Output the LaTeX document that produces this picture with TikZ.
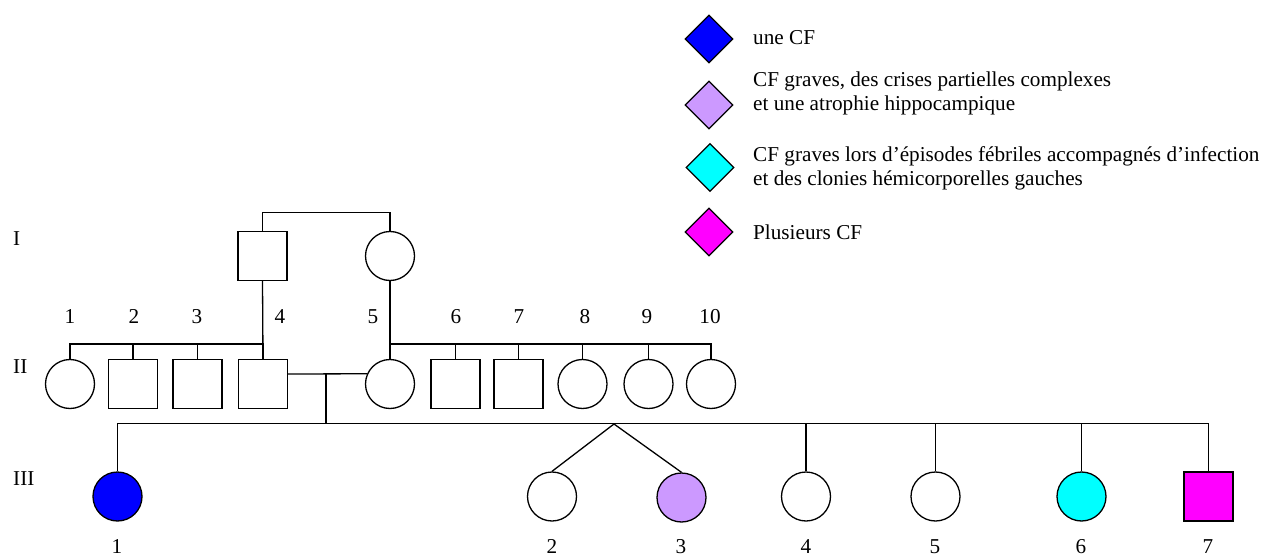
\documentclass[tikz,border=0pt]{standalone}
\usepackage{fontspec}
\setmainfont{Liberation Serif}
\usetikzlibrary{shapes.geometric}
\definecolor{cfblue}{RGB}{0,0,255}
\definecolor{cflav}{RGB}{204,153,255}
\definecolor{cfcyan}{RGB}{0,255,255}
\definecolor{cfmag}{RGB}{255,0,255}
\begin{document}
\begin{tikzpicture}[x=1pt,y=-1pt,
  ln/.style={line width=1.3pt, black},
  male/.style={draw, line width=1.3pt, rectangle, minimum size=49pt, inner sep=0pt},
  female/.style={draw, line width=1.3pt, circle, minimum size=49pt, inner sep=0pt},
  legd/.style={draw, line width=1.3pt, diamond, minimum size=48pt, inner sep=0pt},
  lbl/.style={anchor=base, inner sep=0pt, font=\fontsize{21.2}{24}\selectfont},
  txt/.style={anchor=base west, inner sep=0pt, font=\fontsize{21.2}{24}\selectfont}]
\fill[white] (0,0) rectangle (1266,556);
\useasboundingbox (0,0) rectangle (1266,556);

% generation labels
\node[txt] (gI) at (13,245) {I};
\node[txt] (gII) at (13,373) {II};
\node[txt] (gIII) at (13,485) {III};

% generation I
\node[male] (I1) at (262.5,256) {};
\node[female] (I2) at (390,256) {};

% generation II
\node[female] (II1) at (70,384) {};
\node[male] (II2) at (133,384) {};
\node[male] (II3) at (197.5,384) {};
\node[male] (II4) at (263,384) {};
\node[female] (II5) at (390,384) {};
\node[male] (II6) at (455.5,384) {};
\node[male] (II7) at (518.5,384) {};
\node[female] (II8) at (582.5,384) {};
\node[female] (II9) at (648.5,384) {};
\node[female] (II10) at (711,384) {};

\node[lbl] (n1) at (70,323) {1};
\node[lbl] (n2) at (134,323) {2};
\node[lbl] (n3) at (197,323) {3};
\node[lbl] (n4) at (280,323) {4};
\node[lbl] (n5) at (373,323) {5};
\node[lbl] (n6) at (456,323) {6};
\node[lbl] (n7) at (519,323) {7};
\node[lbl] (n8) at (585,323) {8};
\node[lbl] (n9) at (647,323) {9};
\node[lbl] (n10) at (710,323) {10};

% generation III
\node[female, fill=cfblue] (III1) at (117.5,496.5) {};
\node[female] (III2) at (552,496.5) {};
\node[female, fill=cflav] (III3) at (681.5,497.5) {};
\node[female] (III4) at (806,496.5) {};
\node[female] (III5) at (935.5,496.5) {};
\node[female, fill=cfcyan] (III6) at (1081.5,496.5) {};
\node[male, fill=cfmag] (III7) at (1208.5,496.5) {};

\node[lbl] (m1) at (117,553) {1};
\node[lbl] (m2) at (552,553) {2};
\node[lbl] (m3) at (681,553) {3};
\node[lbl] (m4) at (806,553) {4};
\node[lbl] (m5) at (935,553) {5};
\node[lbl] (m6) at (1081,553) {6};
\node[lbl] (m7) at (1208,553) {7};

\coordinate (mII) at (326,374);
\coordinate (sIII) at (326,424);
\coordinate (tw) at (614,424);

% connectors
\draw[ln] (I1.north) -- ++(0,-18) -| (I2.north);
\draw[ln] (I1.south) -- (II4.north);
\draw[ln] (II1.north) -- ++(0,-15) -| (II4.north);
\draw[ln] (II2.north) -- ++(0,-15);
\draw[ln] (II3.north) -- ++(0,-15);
\draw[ln] (I2.south) -- (II5.north);
\draw[ln] (II5.north) -- ++(0,-15) -| (II10.north);
\draw[ln] (II6.north) -- ++(0,-15);
\draw[ln] (II7.north) -- ++(0,-15);
\draw[ln] (II8.north) -- ++(0,-15);
\draw[ln] (II9.north) -- ++(0,-15);
\draw[ln] (II4.east |- mII) -- (II5.156);
\draw[ln] (mII) -- (sIII);
\draw[ln] (III1.north) -- ++(0,-48) -| (III7.north);
\draw[ln] (III4.north) -- (III4.north |- sIII);
\draw[ln] (III5.north) -- (III5.north |- sIII);
\draw[ln] (III6.north) -- (III6.north |- sIII);
\draw[ln] (tw) -- (III2.north);
\draw[ln] (tw) -- (III3.north);

% legend
\node[legd, fill=cfblue] (L1) at (709,39) {};
\node[legd, fill=cflav] (L2) at (709,105) {};
\node[legd, fill=cfcyan] (L3) at (710,167.5) {};
\node[legd, fill=cfmag] (L4) at (709,232) {};
\node[txt] (t1) at (753,45) {une CF};
\node[txt] (t2a) at (753,87) {CF graves, des crises partielles complexes};
\node[txt] (t2b) at (753,111) {et une atrophie hippocampique};
\node[txt] (t3a) at (753,162) {CF graves lors d’épisodes fébriles accompagnés d’infection};
\node[txt] (t3b) at (753,186) {et des clonies hémicorporelles gauches};
\node[txt] (t4) at (753,240) {Plusieurs CF};
\end{tikzpicture}
\end{document}
